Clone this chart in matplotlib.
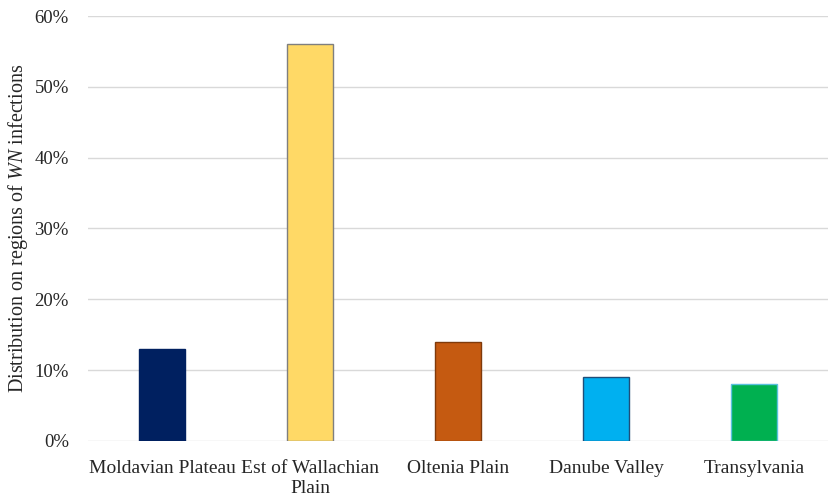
import matplotlib
matplotlib.use("Agg")
import matplotlib.pyplot as plt
from matplotlib.ticker import PercentFormatter

plt.rcParams['font.family'] = ['Liberation Serif', 'DejaVu Serif']
plt.rcParams['mathtext.fontset'] = 'custom'
plt.rcParams['mathtext.rm'] = 'Liberation Serif'
plt.rcParams['mathtext.it'] = 'Liberation Serif:italic'

regions = ["Moldavian Plateau", "Est of Wallachian\nPlain", "Oltenia Plain",
           "Danube Valley", "Transylvania"]
shares = [13, 56, 14, 9, 8]
barColors = ["#002060", "#FFD966", "#C55A11", "#00B0F0", "#00B050"]
edgeColors = ["#002060", "#7f7f7f", "#7f3a0b", "#1f4e79", "#5bc0de"]

fig = plt.figure(figsize=(8.33, 5.01), dpi=100)
ax = fig.add_axes([0.106, 0.120, 0.888, 0.848])

x = range(len(regions))
ax.bar(x, shares, width=0.31, color=barColors, edgecolor=edgeColors,
       linewidth=1.0, zorder=3)

ax.set_ylim(0, 60)
ax.set_xlim(-0.5, len(regions) - 0.5)
ax.set_yticks(range(0, 61, 10))
ax.yaxis.set_major_formatter(PercentFormatter(decimals=0))
ax.set_xticks(list(x), labels=regions)
ax.tick_params(axis='y', length=0, labelsize=13.5, colors="#262626", pad=14)
ax.tick_params(axis='x', length=0, labelsize=14, colors="#262626", pad=14)
ax.grid(axis='y', color="#d9d9d9", linewidth=1.0, zorder=0)
for s in ax.spines.values():
    s.set_visible(False)

ax.set_ylabel(r"Distribution on regions of $\mathit{WN}$ infections",
              fontsize=14.5, color="#262626", labelpad=3)

fig.savefig("out.png", dpi=100)
